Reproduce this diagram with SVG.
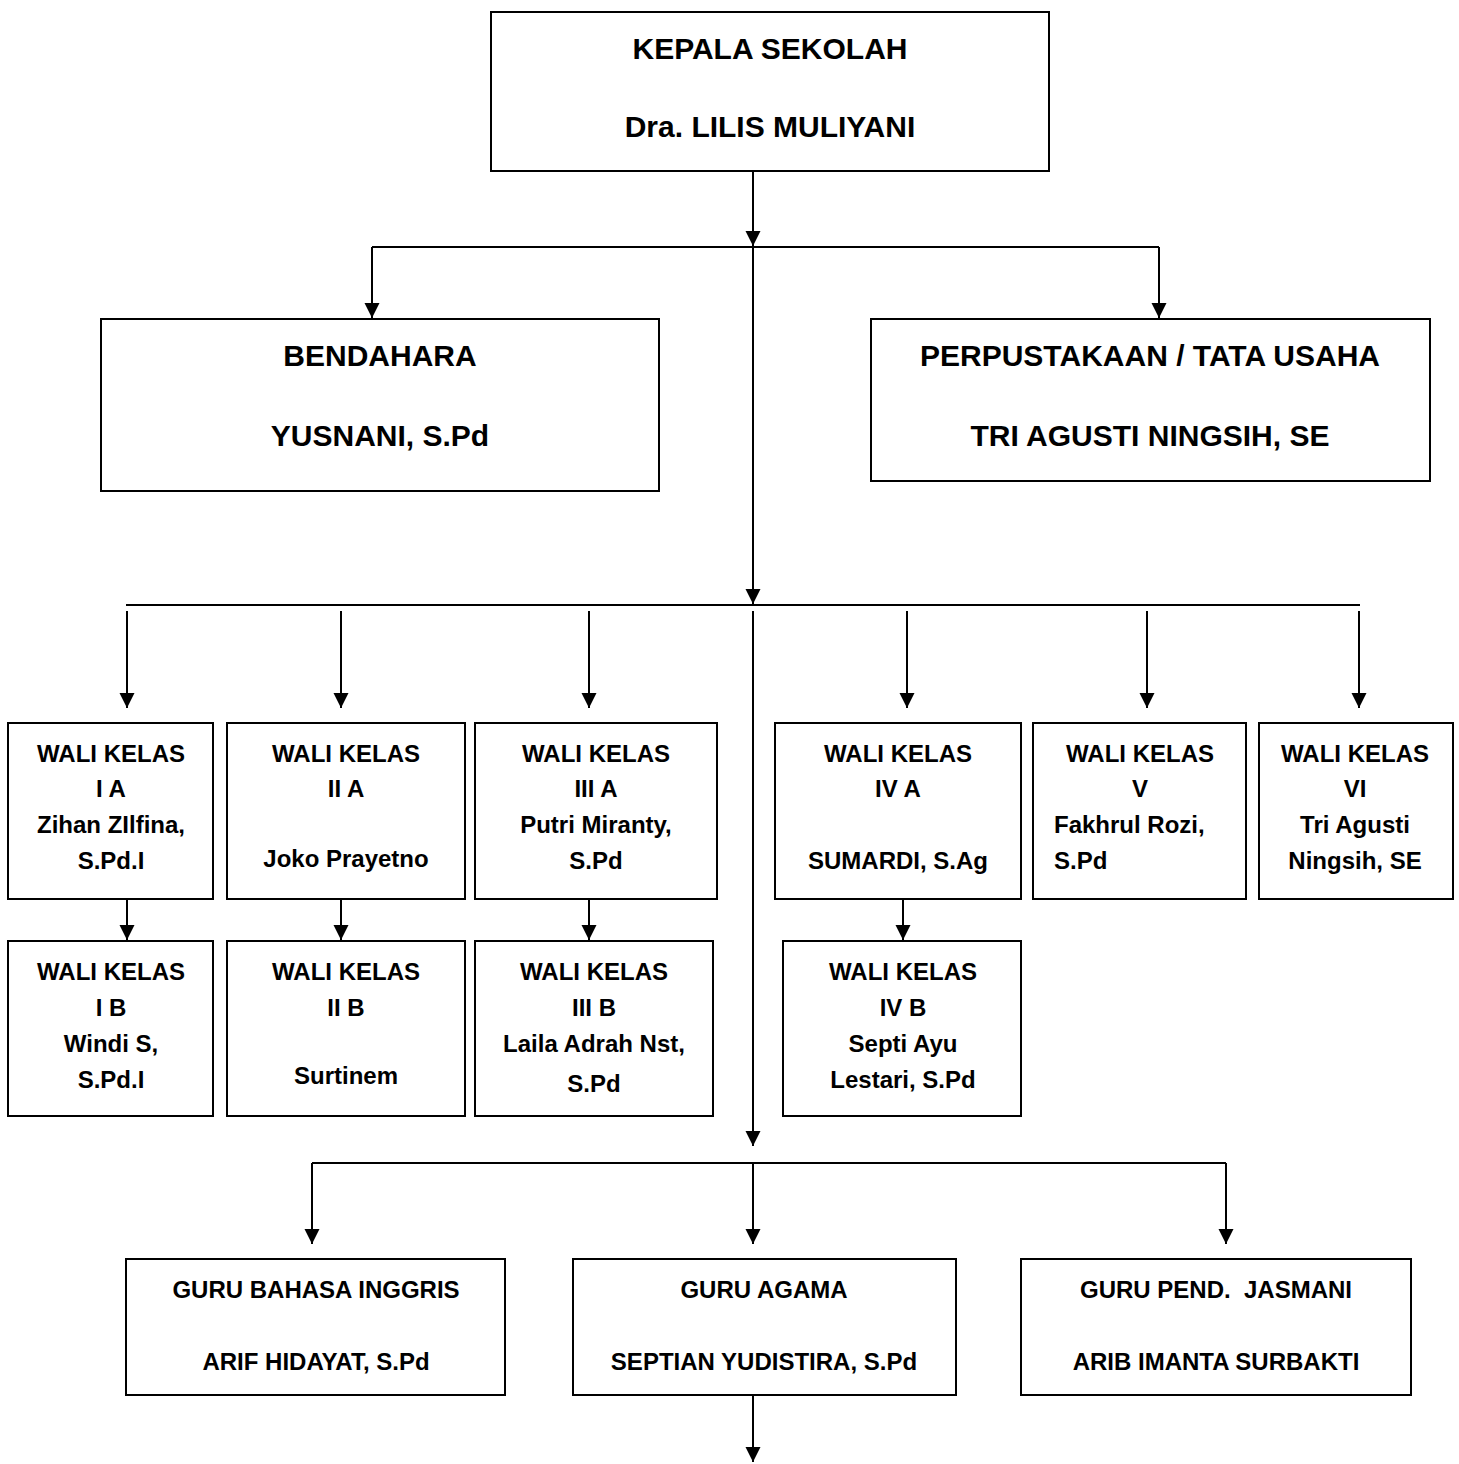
<svg xmlns="http://www.w3.org/2000/svg" width="1459" height="1464" viewBox="0 0 1459 1464">
<style>
  .box{fill:#fff;stroke:#000;stroke-width:2}
  .t{font-family:"Liberation Sans",Arial,sans-serif;font-weight:bold;fill:#000;text-anchor:middle}
  .h{font-size:30px}
  .w{font-size:24px}
  .l{text-anchor:start}
  .c{fill:none;stroke:#000;stroke-width:2}
</style>
<defs>
  <marker id="ah" markerUnits="userSpaceOnUse" markerWidth="16" markerHeight="16" refX="15" refY="7.5" orient="auto">
    <path d="M0,0 L15,7.5 L0,15 Z" fill="#000"/>
  </marker>
</defs>
<rect width="1459" height="1464" fill="#fff"/>

<g id="connectors">
  <path class="c" d="M753,171 V246" marker-end="url(#ah)"/>
  <path class="c" d="M372,247 H1159"/>
  <path class="c" d="M372,247 V318" marker-end="url(#ah)"/>
  <path class="c" d="M1159,247 V318" marker-end="url(#ah)"/>
  <path class="c" d="M753,247 V604" marker-end="url(#ah)"/>
  <path class="c" d="M126,605 H1360"/>
  <path class="c" d="M127,611 V708" marker-end="url(#ah)"/>
  <path class="c" d="M341,611 V708" marker-end="url(#ah)"/>
  <path class="c" d="M589,611 V708" marker-end="url(#ah)"/>
  <path class="c" d="M907,611 V708" marker-end="url(#ah)"/>
  <path class="c" d="M1147,611 V708" marker-end="url(#ah)"/>
  <path class="c" d="M1359,611 V708" marker-end="url(#ah)"/>
  <path class="c" d="M753,611 V1146" marker-end="url(#ah)"/>
  <path class="c" d="M127,899 V940" marker-end="url(#ah)"/>
  <path class="c" d="M341,899 V940" marker-end="url(#ah)"/>
  <path class="c" d="M589,899 V940" marker-end="url(#ah)"/>
  <path class="c" d="M903,899 V940" marker-end="url(#ah)"/>
  <path class="c" d="M312,1163 H1226"/>
  <path class="c" d="M312,1163 V1244" marker-end="url(#ah)"/>
  <path class="c" d="M753,1163 V1244" marker-end="url(#ah)"/>
  <path class="c" d="M1226,1163 V1244" marker-end="url(#ah)"/>
  <path class="c" d="M753,1395 V1462" marker-end="url(#ah)"/>
</g>

<g id="kepala">
  <rect class="box" x="491" y="12" width="558" height="159"/>
  <text class="t h" x="770" y="59">KEPALA SEKOLAH</text>
  <text class="t h" x="770" y="137">Dra. LILIS MULIYANI</text>
</g>
<g id="bendahara">
  <rect class="box" x="101" y="319" width="558" height="172"/>
  <text class="t h" x="380" y="366">BENDAHARA</text>
  <text class="t h" x="380" y="446">YUSNANI, S.Pd</text>
</g>
<g id="perpustakaan">
  <rect class="box" x="871" y="319" width="559" height="162"/>
  <text class="t h" x="1150" y="366">PERPUSTAKAAN / TATA USAHA</text>
  <text class="t h" x="1150" y="446">TRI AGUSTI NINGSIH, SE</text>
</g>

<g id="wali-1a">
  <rect class="box" x="8" y="723" width="205" height="176"/>
  <text class="t w" x="111" y="762">WALI KELAS</text>
  <text class="t w" x="111" y="797">I A</text>
  <text class="t w" x="111" y="833">Zihan ZIlfina,</text>
  <text class="t w" x="111" y="869">S.Pd.I</text>
</g>
<g id="wali-2a">
  <rect class="box" x="227" y="723" width="238" height="176"/>
  <text class="t w" x="346" y="762">WALI KELAS</text>
  <text class="t w" x="346" y="797">II A</text>
  <text class="t w" x="346" y="867">Joko Prayetno</text>
</g>
<g id="wali-3a">
  <rect class="box" x="475" y="723" width="242" height="176"/>
  <text class="t w" x="596" y="762">WALI KELAS</text>
  <text class="t w" x="596" y="797">III A</text>
  <text class="t w" x="596" y="833">Putri Miranty,</text>
  <text class="t w" x="596" y="869">S.Pd</text>
</g>
<g id="wali-4a">
  <rect class="box" x="775" y="723" width="246" height="176"/>
  <text class="t w" x="898" y="762">WALI KELAS</text>
  <text class="t w" x="898" y="797">IV A</text>
  <text class="t w" x="898" y="869">SUMARDI, S.Ag</text>
</g>
<g id="wali-5">
  <rect class="box" x="1033" y="723" width="213" height="176"/>
  <text class="t w" x="1140" y="762">WALI KELAS</text>
  <text class="t w" x="1140" y="797">V</text>
  <text class="t w l" x="1054" y="833">Fakhrul Rozi,</text>
  <text class="t w l" x="1054" y="869">S.Pd</text>
</g>
<g id="wali-6">
  <rect class="box" x="1259" y="723" width="194" height="176"/>
  <text class="t w" x="1355" y="762">WALI KELAS</text>
  <text class="t w" x="1355" y="797">VI</text>
  <text class="t w" x="1355" y="833">Tri Agusti</text>
  <text class="t w" x="1355" y="869">Ningsih, SE</text>
</g>

<g id="wali-1b">
  <rect class="box" x="8" y="941" width="205" height="175"/>
  <text class="t w" x="111" y="980">WALI KELAS</text>
  <text class="t w" x="111" y="1016">I B</text>
  <text class="t w" x="111" y="1052">Windi S,</text>
  <text class="t w" x="111" y="1088">S.Pd.I</text>
</g>
<g id="wali-2b">
  <rect class="box" x="227" y="941" width="238" height="175"/>
  <text class="t w" x="346" y="980">WALI KELAS</text>
  <text class="t w" x="346" y="1016">II B</text>
  <text class="t w" x="346" y="1084">Surtinem</text>
</g>
<g id="wali-3b">
  <rect class="box" x="475" y="941" width="238" height="175"/>
  <text class="t w" x="594" y="980">WALI KELAS</text>
  <text class="t w" x="594" y="1016">III B</text>
  <text class="t w" x="594" y="1052">Laila Adrah Nst,</text>
  <text class="t w" x="594" y="1092">S.Pd</text>
</g>
<g id="wali-4b">
  <rect class="box" x="783" y="941" width="238" height="175"/>
  <text class="t w" x="903" y="980">WALI KELAS</text>
  <text class="t w" x="903" y="1016">IV B</text>
  <text class="t w" x="903" y="1052">Septi Ayu</text>
  <text class="t w" x="903" y="1088">Lestari, S.Pd</text>
</g>

<g id="guru-inggris">
  <rect class="box" x="126" y="1259" width="379" height="136"/>
  <text class="t w" x="316" y="1298">GURU BAHASA INGGRIS</text>
  <text class="t w" x="316" y="1370">ARIF HIDAYAT, S.Pd</text>
</g>
<g id="guru-agama">
  <rect class="box" x="573" y="1259" width="383" height="136"/>
  <text class="t w" x="764" y="1298">GURU AGAMA</text>
  <text class="t w" x="764" y="1370">SEPTIAN YUDISTIRA, S.Pd</text>
</g>
<g id="guru-jasmani">
  <rect class="box" x="1021" y="1259" width="390" height="136"/>
  <text class="t w" x="1216" y="1298" xml:space="preserve">GURU PEND.  JASMANI</text>
  <text class="t w" x="1216" y="1370">ARIB IMANTA SURBAKTI</text>
</g>
</svg>
